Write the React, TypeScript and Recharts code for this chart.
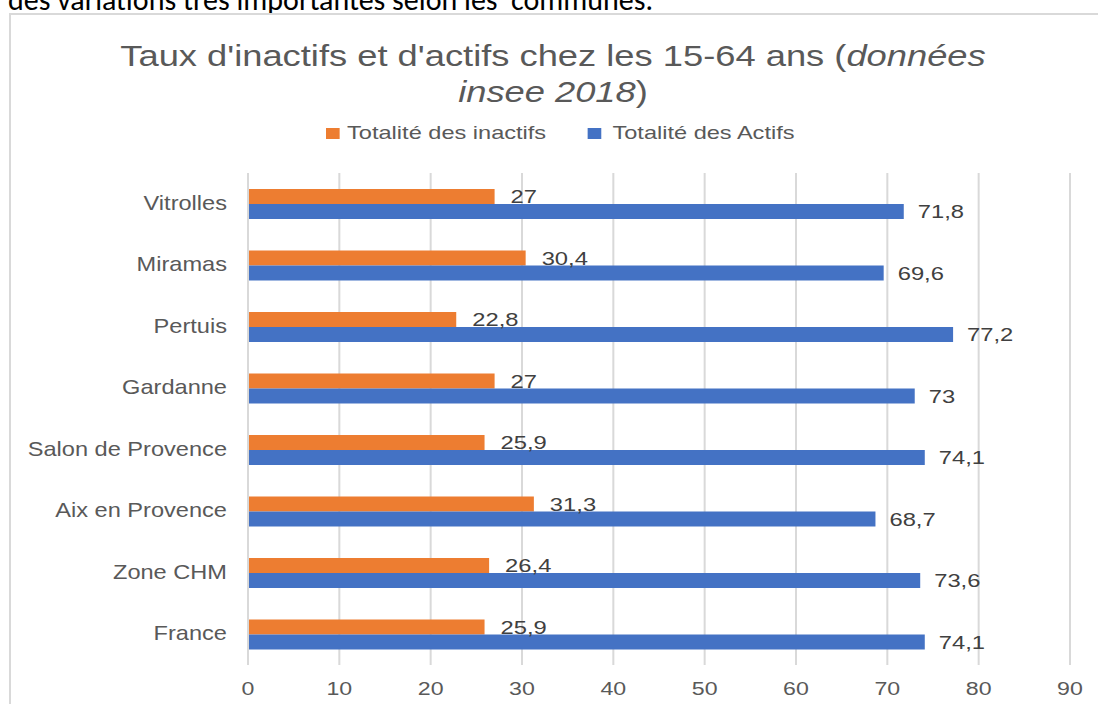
import React from 'react';
import { BarChart, Bar, XAxis, YAxis, CartesianGrid, LabelList } from 'recharts';

const categories = [
  'Vitrolles',
  'Miramas',
  'Pertuis',
  'Gardanne',
  'Salon de Provence',
  'Aix en Provence',
  'Zone CHM',
  'France',
];
const inactifs = [27, 30.4, 22.8, 27, 25.9, 31.3, 26.4, 25.9];
const actifs = [71.8, 69.6, 77.2, 73, 74.1, 68.7, 73.6, 74.1];
const xTicks = [0, 10, 20, 30, 40, 50, 60, 70, 80, 90];

const data = categories.map((name, i) => ({
  name,
  inactifs: inactifs[i],
  actifs: actifs[i],
}));

const FONT = '"Liberation Sans", Arial, sans-serif';
const fmt = (v: any) => String(v).replace('.', ',');

// the source screenshot is stretched sideways, so texts get a scaleX
const YTick = (props: any) => {
  const { x, y, payload } = props;
  return (
    <text
      transform={`translate(${x},${y}) scale(1.18,1)`}
      textAnchor="end"
      dy="0.3em"
      fill="#595959"
      fontSize={20}
      fontFamily={FONT}
    >
      {payload.value}
    </text>
  );
};

const XTick = (props: any) => {
  const { x, y, payload } = props;
  return (
    <text
      transform={`translate(${x},${y}) scale(1.22,1)`}
      textAnchor="middle"
      dy="0.71em"
      fill="#595959"
      fontSize={19}
      fontFamily={FONT}
    >
      {payload.value}
    </text>
  );
};

const barLabel = (offset: number) => (props: any) => {
  const { x, y, width, height, value } = props;
  return (
    <text
      transform={`translate(${x + width + offset},${y + height / 2}) scale(1.25,1)`}
      textAnchor="start"
      dy="0.355em"
      fill="#404040"
      fontSize={19}
      fontFamily={FONT}
    >
      {fmt(value)}
    </text>
  );
};

export default function App() {
  return (
    <div
      style={{
        position: 'absolute',
        left: 0,
        top: 0,
        width: 1098,
        height: 704,
        overflow: 'hidden',
        background: '#fff',
        fontFamily: FONT,
      }}
    >
      {/* bit of the document text above the chart */}
      <div
        style={{
          position: 'absolute',
          left: 8,
          top: -19,
          fontFamily: 'Carlito, "Open Sans", sans-serif',
          fontSize: 30,
          color: '#000',
          whiteSpace: 'nowrap',
        }}
      >
        des variations très importantes selon les&nbsp; communes.
      </div>
      <div
        style={{
          position: 'absolute',
          left: 9,
          top: 13,
          width: 1200,
          height: 800,
          border: '2px solid #d9d9d9',
        }}
      />
      <div
        style={{
          position: 'absolute',
          left: 10,
          top: 38,
          width: 1086,
          textAlign: 'center',
          fontSize: 30,
          lineHeight: '36px',
          color: '#595959',
          transform: 'scaleX(1.21)',
          transformOrigin: '543px 0',
        }}
      >
        Taux d'inactifs et d'actifs chez les 15-64 ans (<i>données</i>
        <br />
        <i>insee 2018</i>)
      </div>
      <div
        style={{
          position: 'absolute',
          left: 326,
          top: 122,
          display: 'flex',
          alignItems: 'center',
          fontSize: 19,
          lineHeight: '22px',
          color: '#595959',
          whiteSpace: 'nowrap',
          transform: 'scaleX(1.24)',
          transformOrigin: '0 0',
        }}
      >
        <span style={{ width: 10.5, height: 11, background: '#ED7D31', marginRight: 6.5 }} />
        <span>Totalité des inactifs</span>
        <span style={{ width: 11.3, height: 11, background: '#4472C4', marginLeft: 33, marginRight: 9.2 }} />
        <span>Totalité des Actifs</span>
      </div>
      <div style={{ position: 'absolute', left: 0, top: 0 }}>
        <BarChart
          width={1098}
          height={704}
          data={data}
          layout="vertical"
          margin={{ top: 173, right: 28, bottom: 0, left: 0 }}
          barSize={15}
          barGap={0}
        >
          <CartesianGrid horizontal={false} stroke="#d9d9d9" strokeWidth={2} />
          <XAxis
            type="number"
            domain={[0, 90]}
            ticks={xTicks}
            interval={0}
            axisLine={false}
            tickLine={false}
            tickSize={0}
            tickMargin={16}
            height={39}
            tick={<XTick />}
          />
          <YAxis
            type="category"
            dataKey="name"
            width={248}
            axisLine={{ stroke: '#d9d9d9', strokeWidth: 2 }}
            tickLine={false}
            tickSize={0}
            tickMargin={21}
            interval={0}
            tick={<YTick />}
          />
          <Bar dataKey="inactifs" fill="#ED7D31" isAnimationActive={false}>
            <LabelList dataKey="inactifs" content={barLabel(16)} />
          </Bar>
          <Bar dataKey="actifs" fill="#4472C4" isAnimationActive={false}>
            <LabelList dataKey="actifs" content={barLabel(14)} />
          </Bar>
        </BarChart>
      </div>
    </div>
  );
}
